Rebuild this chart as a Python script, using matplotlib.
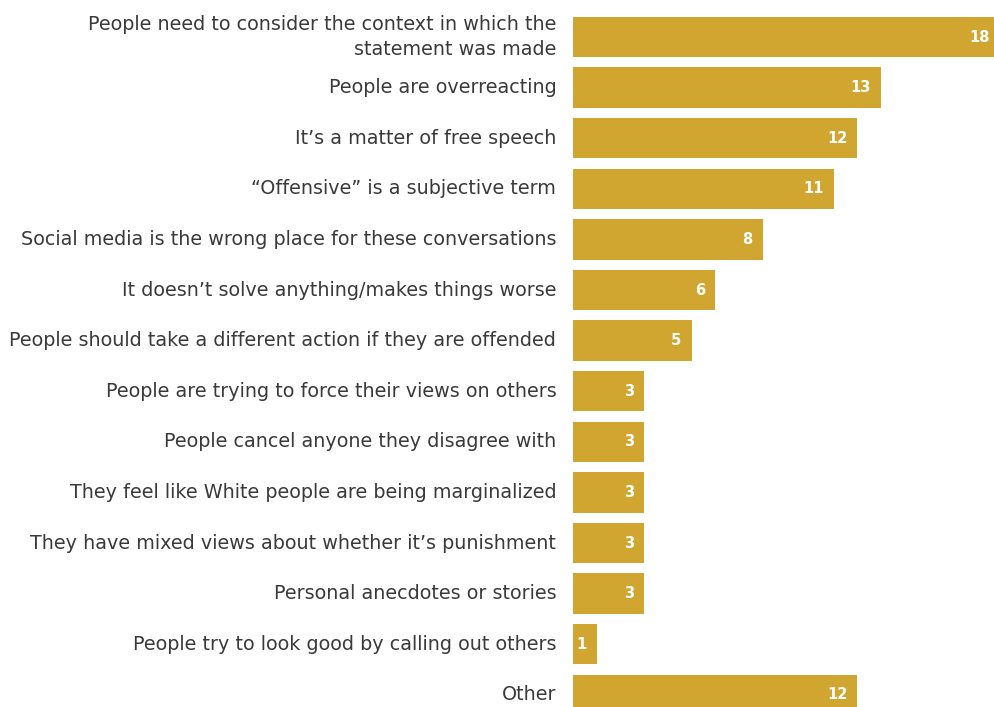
import matplotlib
matplotlib.use("Agg")
import matplotlib.pyplot as plt

categories = [
    "People need to consider the context in which the\nstatement was made",
    "People are overreacting",
    "It\u2019s a matter of free speech",
    "\u201cOffensive\u201d is a subjective term",
    "Social media is the wrong place for these conversations",
    "It doesn\u2019t solve anything/makes things worse",
    "People should take a different action if they are offended",
    "People are trying to force their views on others",
    "People cancel anyone they disagree with",
    "They feel like White people are being marginalized",
    "They have mixed views about whether it\u2019s punishment",
    "Personal anecdotes or stories",
    "People try to look good by calling out others",
    "Other",
]
values = [18, 13, 12, 11, 8, 6, 5, 3, 3, 3, 3, 3, 1, 12]

plt.rcParams['font.family'] = ['DejaVu Sans']

fig = plt.figure(figsize=(9.94, 7.07), dpi=100)
ax = fig.add_axes([573/994, 0, 1 - 573/994, 1])

bar_color = '#D0A631'
ypos = list(range(len(values)))
ax.barh(ypos, values, height=0.8, color=bar_color)

step = 50.6
ax.set_xlim(0, 421/23.7)
ax.set_ylim((707-37)/step, -37/step)

for y, v in zip(ypos, values):
    ax.text(v - 0.42, y, str(v), ha='right', va='center', color='white',
            fontsize=10.5, fontweight='bold', clip_on=False)

ax.set_yticks(ypos)
labels = ax.set_yticklabels(categories, fontsize=13.8, color='#3a3a3a', linespacing=1.45)
for t in labels:
    t.set_verticalalignment('center')
ax.tick_params(axis='y', length=0, pad=12)
ax.set_xticks([])
for s in ax.spines.values():
    s.set_visible(False)

fig.savefig("out.png", dpi=100)
